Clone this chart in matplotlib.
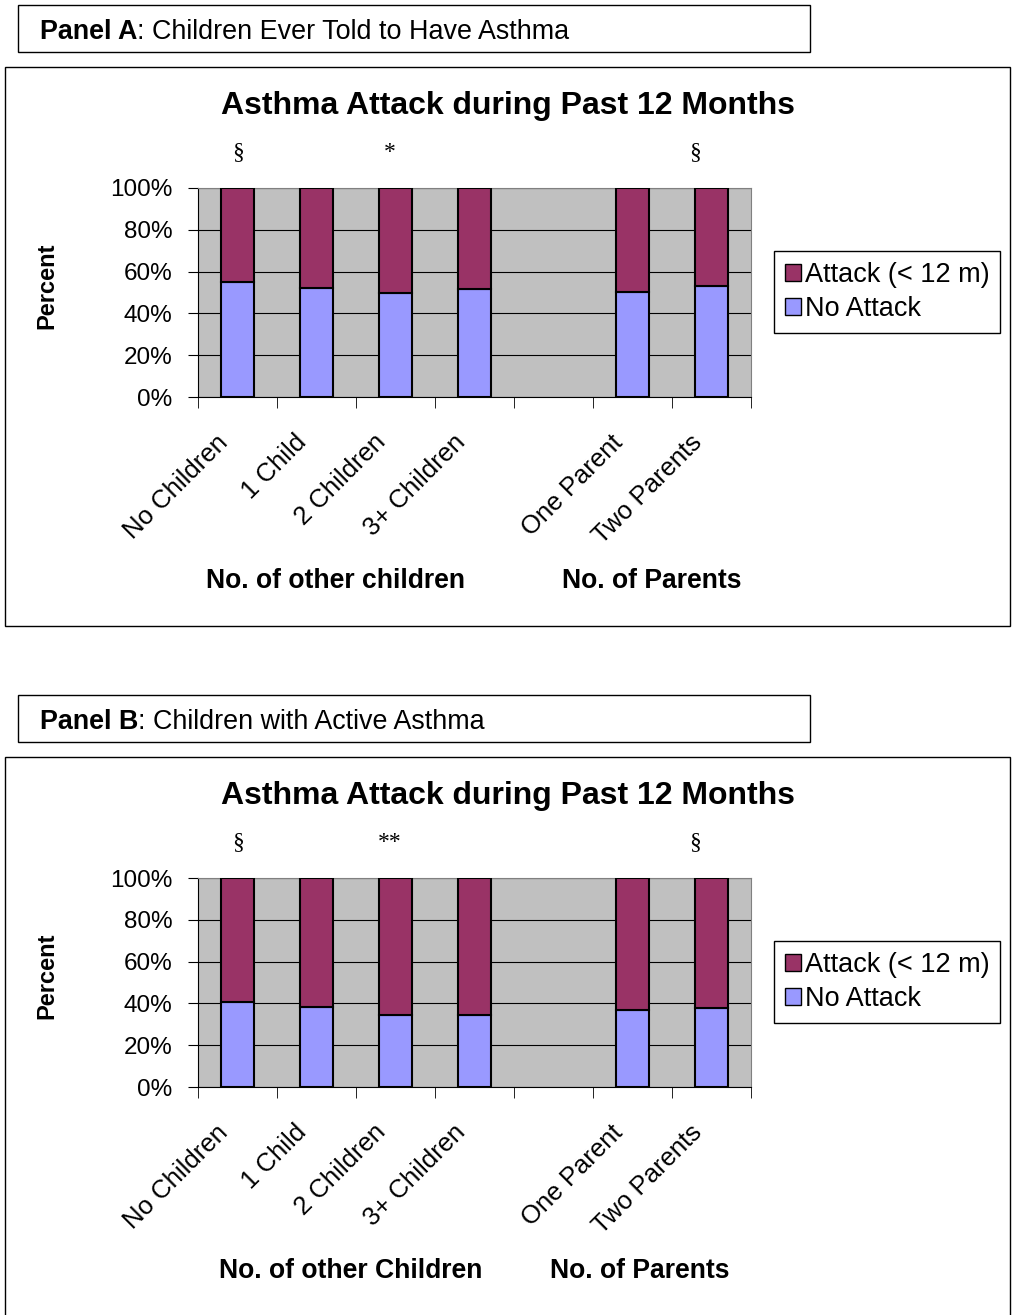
import numpy as np
import matplotlib
matplotlib.use('Agg')
import matplotlib.pyplot as plt
from matplotlib.patches import Rectangle, Patch

plt.rcParams['font.family'] = ['Liberation Sans', 'DejaVu Sans']

categories = ['No Children', '1 Child', '2 Children', '3+ Children', '', 'One Parent', 'Two Parents']

# percent with no attack (rest = attack during past 12 months)
no_attack_a = [55.0, 52.3, 49.8, 51.9, np.nan, 50.4, 53.0]
no_attack_b = [40.6, 38.3, 34.3, 34.6, np.nan, 36.9, 38.0]

marks_a = ['§', '', '*', '', '', '', '§']
marks_b = ['§', '', '**', '', '', '', '§']

headers = [('Panel A', ': Children Ever Told to Have Asthma'),
           ('Panel B', ': Children with Active Asthma')]
group_labels_a = ['No. of other children', 'No. of Parents']
group_labels_b = ['No. of other Children', 'No. of Parents']

title = 'Asthma Attack during Past 12 Months'
col_attack = '#993366'
col_none = '#9999FF'

W, H = 1015, 1315
fig = plt.figure(figsize=(W / 100, H / 100), dpi=100)
# marks sit a little left of their bar in the original (pixels)
mark_shift = [0, 0, -6, 0, 0, 0, -16]


def fx(px):
    return px / W


def fy(py):
    return 1 - py / H


def panel(y0, no_attack, marks, header, groups, group_x):
    # header box
    fig.patches.append(Rectangle((fx(18), fy(y0 + 47)), fx(792), 47 / H,
                                 transform=fig.transFigure, fill=False, ec='black', lw=1))
    t = fig.text(fx(40), fy(y0 + 27), header[0], fontsize=19.4, fontweight='bold', va='center')
    fig.canvas.draw()
    bb = t.get_window_extent()
    fig.text(bb.x1 / W, fy(y0 + 27), header[1], fontsize=19.4, va='center')

    # chart frame
    top = y0 + 62
    fig.patches.append(Rectangle((fx(5), fy(top + 559)), fx(1005), 559 / H,
                                 transform=fig.transFigure, fill=False, ec='black', lw=1))
    fig.text(fx(508), fy(top + 39), title, fontsize=23, fontweight='bold',
             ha='center', va='center')

    ax_top = top + 121
    ax = fig.add_axes([fx(198), fy(ax_top + 209), fx(553), 209 / H])
    ax.set_facecolor('#C0C0C0')
    x = np.arange(len(categories))
    na = np.array(no_attack) / 100
    ax.bar(x, na, width=0.41, color=col_none, edgecolor='black', lw=1.5, zorder=3)
    ax.bar(x, 1 - na, bottom=na, width=0.41, color=col_attack, edgecolor='black', lw=1.5, zorder=3)
    ax.set_xlim(-0.5, len(categories) - 0.5)
    ax.set_ylim(0, 1)
    ax.set_yticks(np.arange(0, 1.01, 0.2))
    ax.set_yticklabels([f'{int(round(v * 100))}%' for v in np.arange(0, 1.01, 0.2)], fontsize=17.5)
    ax.yaxis.grid(True, color='black', lw=0.8, zorder=1)
    ax.set_axisbelow(True)
    # labels hang slightly left of the bar centres, like Excel does
    ax.set_xticks(x - 0.17)
    ax.set_xticklabels(categories, rotation=45, ha='right', va='center',
                       rotation_mode='anchor', fontsize=18.5)
    ax.tick_params(axis='x', length=0, pad=30)
    ax.set_xticks(np.arange(-0.5, len(categories)), minor=True)
    ax.tick_params(axis='x', which='minor', length=8, direction='out')
    ax.tick_params(axis='y', length=7, direction='out', pad=11.5)
    for s in ['top', 'right']:
        ax.spines[s].set_color('#808080')
    for i, m in enumerate(marks):
        if m:
            ax.annotate(m, (x[i], 1.17), xytext=(mark_shift[i] * 0.72, 0),
                        textcoords='offset points', ha='center', va='center',
                        fontsize=17, family='Liberation Serif', annotation_clip=False)

    fig.text(fx(47), fy(ax_top + 98), 'Percent', rotation=90, fontsize=17,
             fontweight='bold', ha='center', va='center')
    for g, gx in zip(groups, group_x):
        fig.text(fx(gx), fy(top + 514), g, fontsize=19.1, fontweight='bold',
                 ha='center', va='center')

    handles = [Patch(fc=col_attack, ec='black'), Patch(fc=col_none, ec='black')]
    fig.legend(handles, ['Attack (< 12 m)', 'No Attack'], loc='center',
               bbox_to_anchor=(fx(887), fy(ax_top + 104)), fontsize=19.5,
               frameon=True, fancybox=False, edgecolor='black', framealpha=1,
               handlelength=0.6, handleheight=0.6, handletextpad=0.15,
               borderpad=0.4, labelspacing=0.3, borderaxespad=0)


panel(5, no_attack_a, marks_a, headers[0], group_labels_a, [336, 652])
panel(695, no_attack_b, marks_b, headers[1], group_labels_b, [351, 640])

fig.savefig('out.png', dpi=100)
